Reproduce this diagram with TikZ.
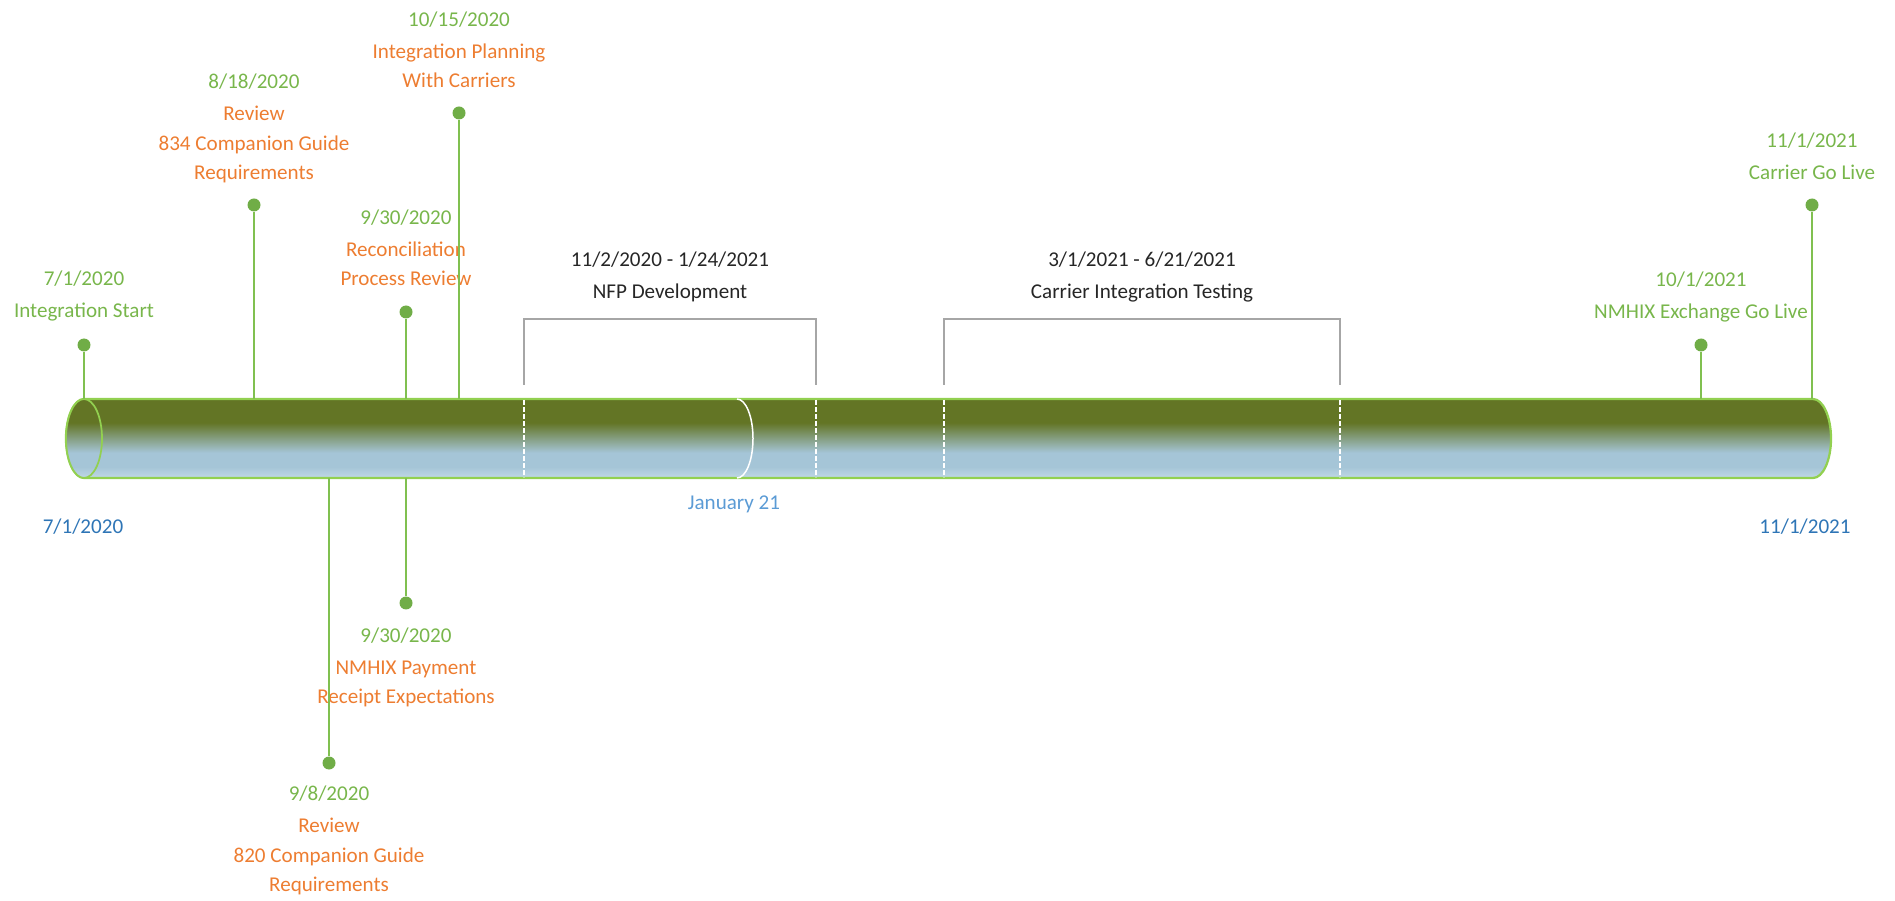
\documentclass[tikz,border=0pt]{standalone}
\usepackage{fontspec}
\setmainfont{Carlito}
\usepackage{tikz}
\usetikzlibrary{positioning}
\usepackage{xcolor}
\definecolor{tube_olive}{RGB}{99,117,37}
\definecolor{tube_blue}{RGB}{165,197,215}
\definecolor{tube_light}{RGB}{192,216,230}
\definecolor{tube_edge}{RGB}{146,208,80}
\definecolor{stem_green}{RGB}{128,192,80}
\definecolor{dot_green}{RGB}{112,173,71}
\definecolor{date_green}{RGB}{120,182,75}
\definecolor{title_orange}{RGB}{237,125,49}
\definecolor{end_blue}{RGB}{46,117,182}
\definecolor{jan_blue}{RGB}{91,155,213}
\definecolor{bracket_gray}{RGB}{166,166,166}
\definecolor{label_black}{RGB}{38,38,38}
\pgfdeclareverticalshading{tubeshade}{100bp}{color(0bp)=(tube_light); color(25bp)=(tube_light); color(32bp)=(tube_blue); color(41bp)=(tube_blue); color(60bp)=(tube_olive); color(100bp)=(tube_olive)}
\newcommand{\datetext}[1]{\textcolor{date_green}{#1}}

\begin{document}
\begin{tikzpicture}[x=0.02cm,y=-0.02cm,semithick,
                    every node/.style={font=\fontsize{12}{16.8}\selectfont,inner sep=0pt}]
    \tikzstyle{milestone}=[circle,fill=dot_green,minimum size=0.26cm,inner sep=0pt]
    \tikzstyle{eventtext}=[align=center,text=title_orange,execute at begin node=\strut,execute at end node=\strut]
    \tikzstyle{stem}=[stem_green,line width=0.04cm]
    \tikzstyle{bracket}=[bracket_gray,line width=0.03cm]
    \tikzstyle{split}=[white,line width=0.025cm,dash pattern=on 0.1cm off 0.04cm]
    \useasboundingbox (0,0) rectangle (1895,901);

    % tube
    \shadedraw[shading=tubeshade,draw=tube_edge,line width=0.045cm]
        (84,399) -- (1813,399) arc[start angle=-90,end angle=90,x radius=18,y radius=39.5]
        -- (84,478) arc[start angle=90,end angle=270,x radius=18,y radius=39.5] -- cycle;
    \shadedraw[shading=tubeshade,draw=tube_edge,line width=0.035cm] (84,438.5) ellipse[x radius=18,y radius=39.5];
    \draw[white,line width=0.03cm] (737,399) arc[start angle=-90,end angle=90,x radius=16,y radius=39.5];
    \foreach \x in {524,816,944,1340}
        \draw[split] (\x,400) -- (\x,477);

    % periods
    \draw[bracket] (524,385) -- (524,319) -- (816,319) -- (816,385);
    \draw[bracket] (944,385) -- (944,319) -- (1340,319) -- (1340,385);
    \coordinate (nfp) at (670,319);
    \coordinate (cit) at (1142,319);
    \node[eventtext,text=label_black] (nfp_label)[above of=nfp,node distance=0.79cm] {11/2/2020 - 1/24/2021\\[1.5pt]NFP Development};
    \node[eventtext,text=label_black] (cit_label)[above of=cit,node distance=0.79cm] {3/1/2021 - 6/21/2021\\[1.5pt]Carrier Integration Testing};

    % milestones
    \node[milestone] (m1) at (84,345) {};
    \node[milestone] (m2) at (254,205) {};
    \node[milestone] (m3) at (459,113) {};
    \node[milestone] (m4) at (406,312) {};
    \node[milestone] (m5) at (329,763) {};
    \node[milestone] (m6) at (406,603) {};
    \node[milestone] (m7) at (1701,345) {};
    \node[milestone] (m8) at (1812,205) {};

    \node[eventtext,text=date_green] (m1_label)[above of=m1,node distance=0.93cm] {7/1/2020\\[1.5pt]Integration Start};
    \node[eventtext] (m2_label)[above of=m2,node distance=1.47cm] {\datetext{8/18/2020}\\[1.5pt]Review\\834 Companion Guide\\Requirements};
    \node[eventtext] (m3_label)[above of=m3,node distance=1.18cm] {\datetext{10/15/2020}\\[1.5pt]Integration Planning\\With Carriers};
    \node[eventtext] (m4_label)[above of=m4,node distance=1.2cm] {\datetext{9/30/2020}\\[1.5pt]Reconciliation\\Process Review};
    \node[eventtext] (m5_label)[below of=m5,node distance=1.61cm] {\datetext{9/8/2020}\\[1.5pt]Review\\820 Companion Guide\\Requirements};
    \node[eventtext] (m6_label)[below of=m6,node distance=1.345cm] {\datetext{9/30/2020}\\[1.5pt]NMHIX Payment\\Receipt Expectations};
    \node[eventtext,text=date_green] (m7_label)[above of=m7,node distance=0.91cm] {10/1/2021\\[1.5pt]NMHIX Exchange Go Live};
    \node[eventtext,text=date_green] (m8_label)[above of=m8,node distance=0.89cm] {11/1/2021\\[1.5pt]Carrier Go Live};

    \coordinate (t1) at (84,399);
    \coordinate (t2) at (254,399);
    \coordinate (t3) at (459,399);
    \coordinate (t4) at (406,399);
    \coordinate (t5) at (329,478);
    \coordinate (t6) at (406,478);
    \coordinate (t7) at (1701,399);
    \coordinate (t8) at (1812,399);
    \draw[stem] (m1) -- (t1);
    \draw[stem] (m2) -- (t2);
    \draw[stem] (m3) -- (t3);
    \draw[stem] (m4) -- (t4);
    \draw[stem] (t5) -- (m5);
    \draw[stem] (t6) -- (m6);
    \draw[stem] (m7) -- (t7);
    \draw[stem] (m8) -- (t8);

    % axis dates
    \coordinate (tube_start) at (83,478);
    \coordinate (tube_end) at (1805,478);
    \coordinate (jan) at (734,478);
    \node[text=end_blue] (start_label)[below of=tube_start,node distance=1cm] {\strut 7/1/2020};
    \node[text=end_blue] (end_label)[below of=tube_end,node distance=1cm] {\strut 11/1/2021};
    \node[text=jan_blue] (jan_label)[below of=jan,node distance=0.52cm] {\strut January 21};
\end{tikzpicture}
\end{document}
